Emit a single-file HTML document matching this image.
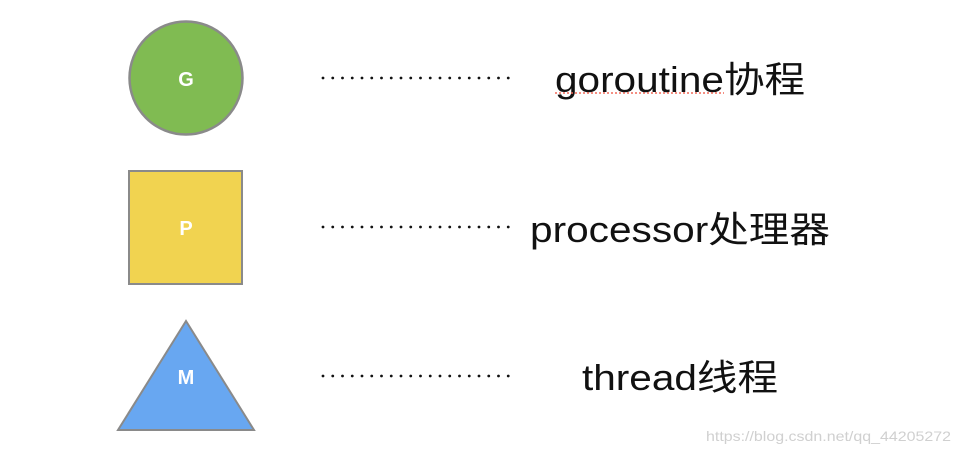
<!DOCTYPE html>
<html><head><meta charset="utf-8"><style>
html,body{margin:0;padding:0;background:#fff;width:959px;height:454px;overflow:hidden}
svg{display:block}
.t{font-family:"Liberation Sans","Noto Sans CJK SC",sans-serif;font-size:36px;fill:#111}
.l{font-family:"Liberation Sans",sans-serif;font-weight:bold;font-size:20px;fill:#fff}
.dl{stroke:#111;stroke-width:2.8;stroke-linecap:round;stroke-dasharray:0 9.75}
</style></head><body>
<svg width="959" height="454" viewBox="0 0 959 454">
<circle cx="186" cy="78" r="56.5" fill="#80bb52" stroke="#8a8a8a" stroke-width="2.5"/>
<text class="l" x="186" y="86" text-anchor="middle">G</text>
<rect x="129" y="171" width="113" height="113" fill="#f1d350" stroke="#8a8a8a" stroke-width="2"/>
<text class="l" x="186" y="235" text-anchor="middle">P</text>
<polygon points="186,321 118,430 254,430" fill="#68a7f1" stroke="#8a8a8a" stroke-width="2"/>
<text class="l" x="186" y="384" text-anchor="middle">M</text>
<line class="dl" x1="323" y1="78" x2="509" y2="78"/>
<line class="dl" x1="323" y1="227" x2="509" y2="227"/>
<line class="dl" x1="323" y1="376" x2="509" y2="376"/>
<text class="t" x="555" y="92" textLength="250" lengthAdjust="spacingAndGlyphs">goroutine协程</text>
<line x1="555" y1="93" x2="724" y2="93" stroke="#f06a5a" stroke-width="1.5" stroke-dasharray="2,2"/>
<text class="t" x="530" y="242" textLength="300" lengthAdjust="spacingAndGlyphs">processor处理器</text>
<text class="t" x="582" y="390" textLength="196" lengthAdjust="spacingAndGlyphs">thread线程</text>
<text x="706" y="441" font-family="Liberation Sans,sans-serif" font-size="14" fill="#d0d0d0" textLength="245" lengthAdjust="spacingAndGlyphs">https://blog.csdn.net/qq_44205272</text>
</svg>
</body></html>
